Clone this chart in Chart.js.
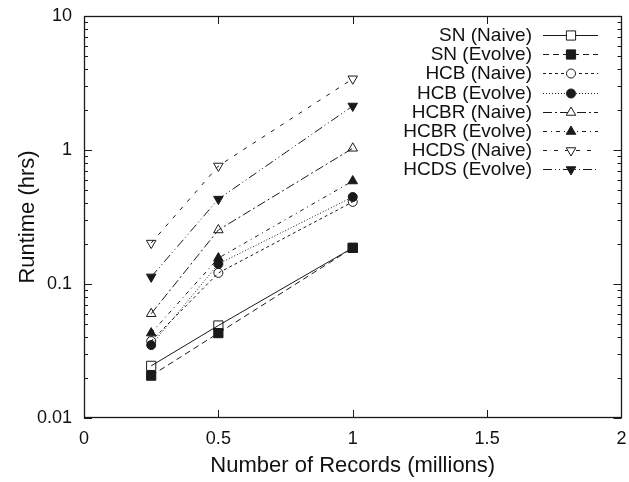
<!DOCTYPE html>
<html>
<head>
<meta charset="utf-8">
<title>Runtime vs Number of Records</title>
<script src="https://cdn.jsdelivr.net/npm/chart.js@4.4.0/dist/chart.umd.min.js"></script>
<style>
    html, body { margin: 0; padding: 0; background: #fff; }
    #wrap { width: 629px; height: 482px; }
</style>
</head>
<body>
<div id="wrap"><canvas id="runtimeChart" width="629" height="482"></canvas></div>
<script>
// ── Data ───────────────────────────────────────────────────────
const records      = [0.25, 0.5, 1];          // millions
const snNaive      = [0.0245, 0.049, 0.186];
const snEvolve     = [0.0207, 0.043, 0.186];
const hcbNaive     = [0.0375, 0.121, 0.41];
const hcbEvolve    = [0.035, 0.141, 0.446];
const hcbrNaive    = [0.060, 0.253, 1.03];
const hcbrEvolve   = [0.043, 0.156, 0.587];
const hcdsNaive    = [0.202, 0.76, 3.4];
const hcdsEvolve   = [0.113, 0.43, 2.13];

const seriesLabels = ['SN (Naive)', 'SN (Evolve)', 'HCB (Naive)', 'HCB (Evolve)',
                      'HCBR (Naive)', 'HCBR (Evolve)', 'HCDS (Naive)', 'HCDS (Evolve)'];
const seriesValues = [snNaive, snEvolve, hcbNaive, hcbEvolve,
                      hcbrNaive, hcbrEvolve, hcdsNaive, hcdsEvolve];

const xTicks = [0, 0.5, 1, 1.5, 2];
const yTicks = [0.01, 0.1, 1, 10];

// ── Styles per series ──────────────────────────────────────────
const INK = '#1a1a1a';
const styles = [
    { dash: [],                      point: 'rect',     radius: 6.5, fill: false, rot: 0 },
    { dash: [6, 4],                  point: 'rect',     radius: 6.5, fill: true,  rot: 0 },
    { dash: [3, 3],                  point: 'circle',   radius: 4.5, fill: false, rot: 0 },
    { dash: [1, 2],                  point: 'circle',   radius: 4.5, fill: true,  rot: 0 },
    { dash: [9, 3, 2, 3],            point: 'triangle', radius: 5.5, fill: false, rot: 0 },
    { dash: [4, 4, 1, 4],            point: 'triangle', radius: 5.5, fill: true,  rot: 0 },
    { dash: [4, 7],                  point: 'triangle', radius: 5.5, fill: false, rot: 180 },
    { dash: [9, 3, 1, 3, 1, 3],      point: 'triangle', radius: 5.5, fill: true,  rot: 180 }
];

const datasets = seriesLabels.map((label, i) => ({
    label,
    data: records.map((x, j) => ({ x, y: seriesValues[i][j] })),
    borderColor: INK,
    borderWidth: 1,
    borderDash: styles[i].dash,
    pointStyle: styles[i].point,
    pointRotation: styles[i].rot,
    pointRadius: styles[i].radius,
    pointBorderWidth: 1,
    pointBorderColor: INK,
    pointBackgroundColor: styles[i].fill ? INK : 'rgba(255,255,255,0)',
    fill: false,
    tension: 0,
    order: seriesLabels.length - i
}));

// ── Frame + inward gnuplot-style ticks ─────────────────────────
const framePlugin = {
    id: 'frame',
    afterDatasetsDraw(chart) {
        const { ctx, chartArea: a, scales: { x, y } } = chart;
        ctx.save();
        ctx.strokeStyle = INK;
        ctx.lineWidth = 1;
        ctx.setLineDash([]);
        ctx.beginPath();
        // x major ticks, bottom and top
        xTicks.slice(1, -1).forEach(v => {
            const px = Math.round(x.getPixelForValue(v)) + 0.5;
            ctx.moveTo(px, a.bottom); ctx.lineTo(px, a.bottom - 8);
            ctx.moveTo(px, a.top);    ctx.lineTo(px, a.top + 8);
        });
        // y ticks: majors + minors 2..9 each decade
        for (let d = -2; d < 1; d++) {
            for (let m = 1; m <= 9; m++) {
                const v = m * Math.pow(10, d);
                const py = Math.round(y.getPixelForValue(v)) + 0.5;
                const len = m === 1 ? 8 : 4;
                ctx.moveTo(a.left, py);  ctx.lineTo(a.left + len, py);
                ctx.moveTo(a.right, py); ctx.lineTo(a.right - len, py);
            }
        }
        ctx.stroke();
        ctx.lineWidth = 1.3;
        ctx.strokeRect(Math.round(a.left) + 0.5, Math.round(a.top) + 0.5,
                       Math.round(a.right - a.left) - 1, Math.round(a.bottom - a.top) - 1);
        ctx.restore();
    }
};

// ── Legend on the right: text, then line sample with marker ────
const keyPlugin = {
    id: 'key',
    afterDraw(chart) {
        const { ctx } = chart;
        const textRight = 532, lineL = 543, lineR = 598, markX = 571;
        ctx.save();
        ctx.font = '19px "Liberation Sans", Arial, sans-serif';
        ctx.textAlign = 'right';
        ctx.textBaseline = 'middle';
        chart.data.datasets.forEach((ds, i) => {
            const yy = Math.round(35 + i * 19.2) + 0.5;
            ctx.fillStyle = '#111';
            ctx.fillText(ds.label, textRight, yy);
            ctx.strokeStyle = INK;
            ctx.lineWidth = 1;
            ctx.setLineDash(ds.borderDash);
            ctx.beginPath();
            ctx.moveTo(lineL, yy); ctx.lineTo(lineR, yy);
            ctx.stroke();
            ctx.setLineDash([]);
            ctx.fillStyle = ds.pointBackgroundColor === INK ? INK : '#fff';
            Chart.helpers.drawPoint(ctx, {
                pointStyle: ds.pointStyle,
                rotation: ds.pointRotation,
                radius: ds.pointRadius,
                borderWidth: 1
            }, markX, yy);
        });
        ctx.restore();
    }
};

const tickFont = { family: '"Liberation Sans", Arial, sans-serif', size: 18 };
const titleFont = { family: '"Liberation Sans", Arial, sans-serif', size: 22 };

new Chart(document.getElementById('runtimeChart'), {
    type: 'line',
    data: { datasets },
    options: {
        responsive: false,
        animation: false,
        devicePixelRatio: 1,
        layout: { padding: { left: 0, top: 16, right: 7, bottom: 0 } },
        plugins: { legend: { display: false }, tooltip: { enabled: false } },
        scales: {
            x: {
                type: 'linear',
                min: 0, max: 2,
                grid: { display: false, drawTicks: false },
                border: { display: false },
                afterBuildTicks: s => { s.ticks = xTicks.map(v => ({ value: v })); },
                afterFit: s => { s.height = 64; s.paddingLeft = 0; s.paddingRight = 0; },
                ticks: { color: '#111', font: tickFont, padding: 10, maxRotation: 0,
                         callback: v => String(v) },
                title: { display: true, text: 'Number of Records (millions)', color: '#111',
                         font: titleFont, padding: { top: 0, bottom: 3 } }
            },
            y: {
                type: 'logarithmic',
                min: 0.01, max: 10,
                grid: { display: false, drawTicks: false },
                border: { display: false },
                afterBuildTicks: s => { s.ticks = yTicks.map(v => ({ value: v })); },
                afterFit: s => { s.width = 84; s.paddingTop = 0; s.paddingBottom = 0; },
                ticks: { color: '#111', font: tickFont, padding: 12, autoSkip: false,
                         callback: v => String(v) },
                title: { display: true, text: 'Runtime (hrs)', color: '#111',
                         font: titleFont, padding: { top: 15, bottom: 0 } }
            }
        }
    },
    plugins: [framePlugin, keyPlugin]
});
</script>
</body>
</html>
